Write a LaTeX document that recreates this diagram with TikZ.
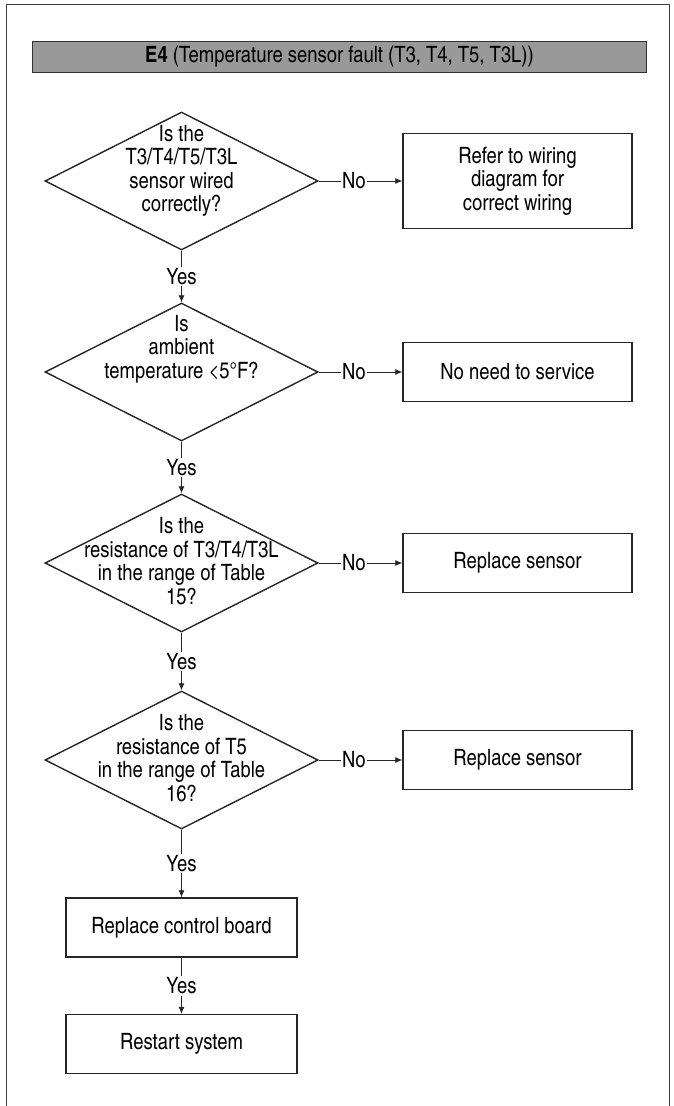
\documentclass[tikz,border=0pt]{standalone}
\usepackage{fontspec}
\setmainfont{texgyreheroscn-regular.otf}[BoldFont=texgyreheroscn-bold.otf]
\usetikzlibrary{arrows.meta,shapes.geometric}
\definecolor{framegray}{RGB}{60,60,60}
\definecolor{headfill}{RGB}{153,153,153}
\newcommand{\bodyfont}{\fontsize{22.5}{23.5}\selectfont}
\tikzset{
  dia/.style={draw=black!85,line width=1.4pt,diamond,minimum width=273pt,minimum height=138pt,inner sep=0pt},
  diatext/.style={align=center,font=\bodyfont,inner sep=0pt},
  boxr/.style={draw=black!85,line width=1.4pt,minimum width=229pt,align=center,font=\bodyfont},
  boxl/.style={draw=black!85,line width=1.4pt,minimum width=231pt,minimum height=59pt,align=center,font=\bodyfont},
  conn/.style={draw=black!85,line width=0.8pt,-{Latex[length=7pt,width=6pt]}},
  lbl/.style={fill=white,inner sep=1.5pt,font=\bodyfont}
}
\begin{document}
\begin{tikzpicture}[x=1pt,y=-1pt]
\useasboundingbox (0,0) rectangle (673,1106);
% outer frame
\draw[framegray,line width=1pt] (6,1106) -- (6,4) -- (669,4) -- (669,1106);
% header
\node[draw=black!80,line width=1pt,fill=headfill,minimum width=614pt,minimum height=31pt,inner sep=0pt,font=\fontsize{22.5}{24}\selectfont] (hdr) at (339.5,57) {\textbf{E4} (Temperature sensor fault (T3, T4, T5, T3L))};
% diamonds
\node[dia] (d1) at (181.5,181) {};
\node[diatext] (t1) at (181.5,171) {Is the\\T3/T4/T5/T3L\\sensor wired\\correctly?};
\node[dia] (d2) at (181.5,372) {};
\node[diatext] (t2) at (181.5,349) {Is\\ambient\\temperature <5°F?};
\node[dia] (d3) at (181.5,563) {};
\node[diatext] (t3) at (181.5,561) {Is the\\resistance of  T3/T4/T3L\\in the range of Table\\15?};
\node[dia] (d4) at (181.5,760) {};
\node[diatext] (t4) at (181.5,758) {Is the\\resistance of  T5\\in the range of Table\\16?};
% right boxes
\node[boxr,minimum height=95pt] (b1) at (517.5,181) {Refer to wiring\\diagram for\\correct wiring};
\node[boxr,minimum height=59pt] (b2) at (517.5,372) {No need to service};
\node[boxr,minimum height=59pt] (b3) at (517.5,563) {Replace sensor};
\node[boxr,minimum height=59pt] (b4) at (517.5,760) {Replace sensor};
% left boxes
\node[boxl] (c1) at (181.5,927.5) {Replace control board};
\node[boxl] (c2) at (181.5,1044) {Restart system};
% connectors
\draw[conn] (d1.east) -- node[lbl,pos=0.42] {No} (b1.west);
\draw[conn] (d2.east) -- node[lbl,pos=0.42] {No} (b2.west);
\draw[conn] (d3.east) -- node[lbl,pos=0.42] {No} (b3.west);
\draw[conn] (d4.east) -- node[lbl,pos=0.42] {No} (b4.west);
\draw[conn] (d1.south) -- node[lbl] {Yes} (d2.north);
\draw[conn] (d2.south) -- node[lbl] {Yes} (d3.north);
\draw[conn] (d3.south) -- node[lbl] {Yes} (d4.north);
\draw[conn] (d4.south) -- node[lbl] {Yes} (c1.north);
\draw[conn] (c1.south) -- node[lbl] {Yes} (c2.north);
\end{tikzpicture}
\end{document}
